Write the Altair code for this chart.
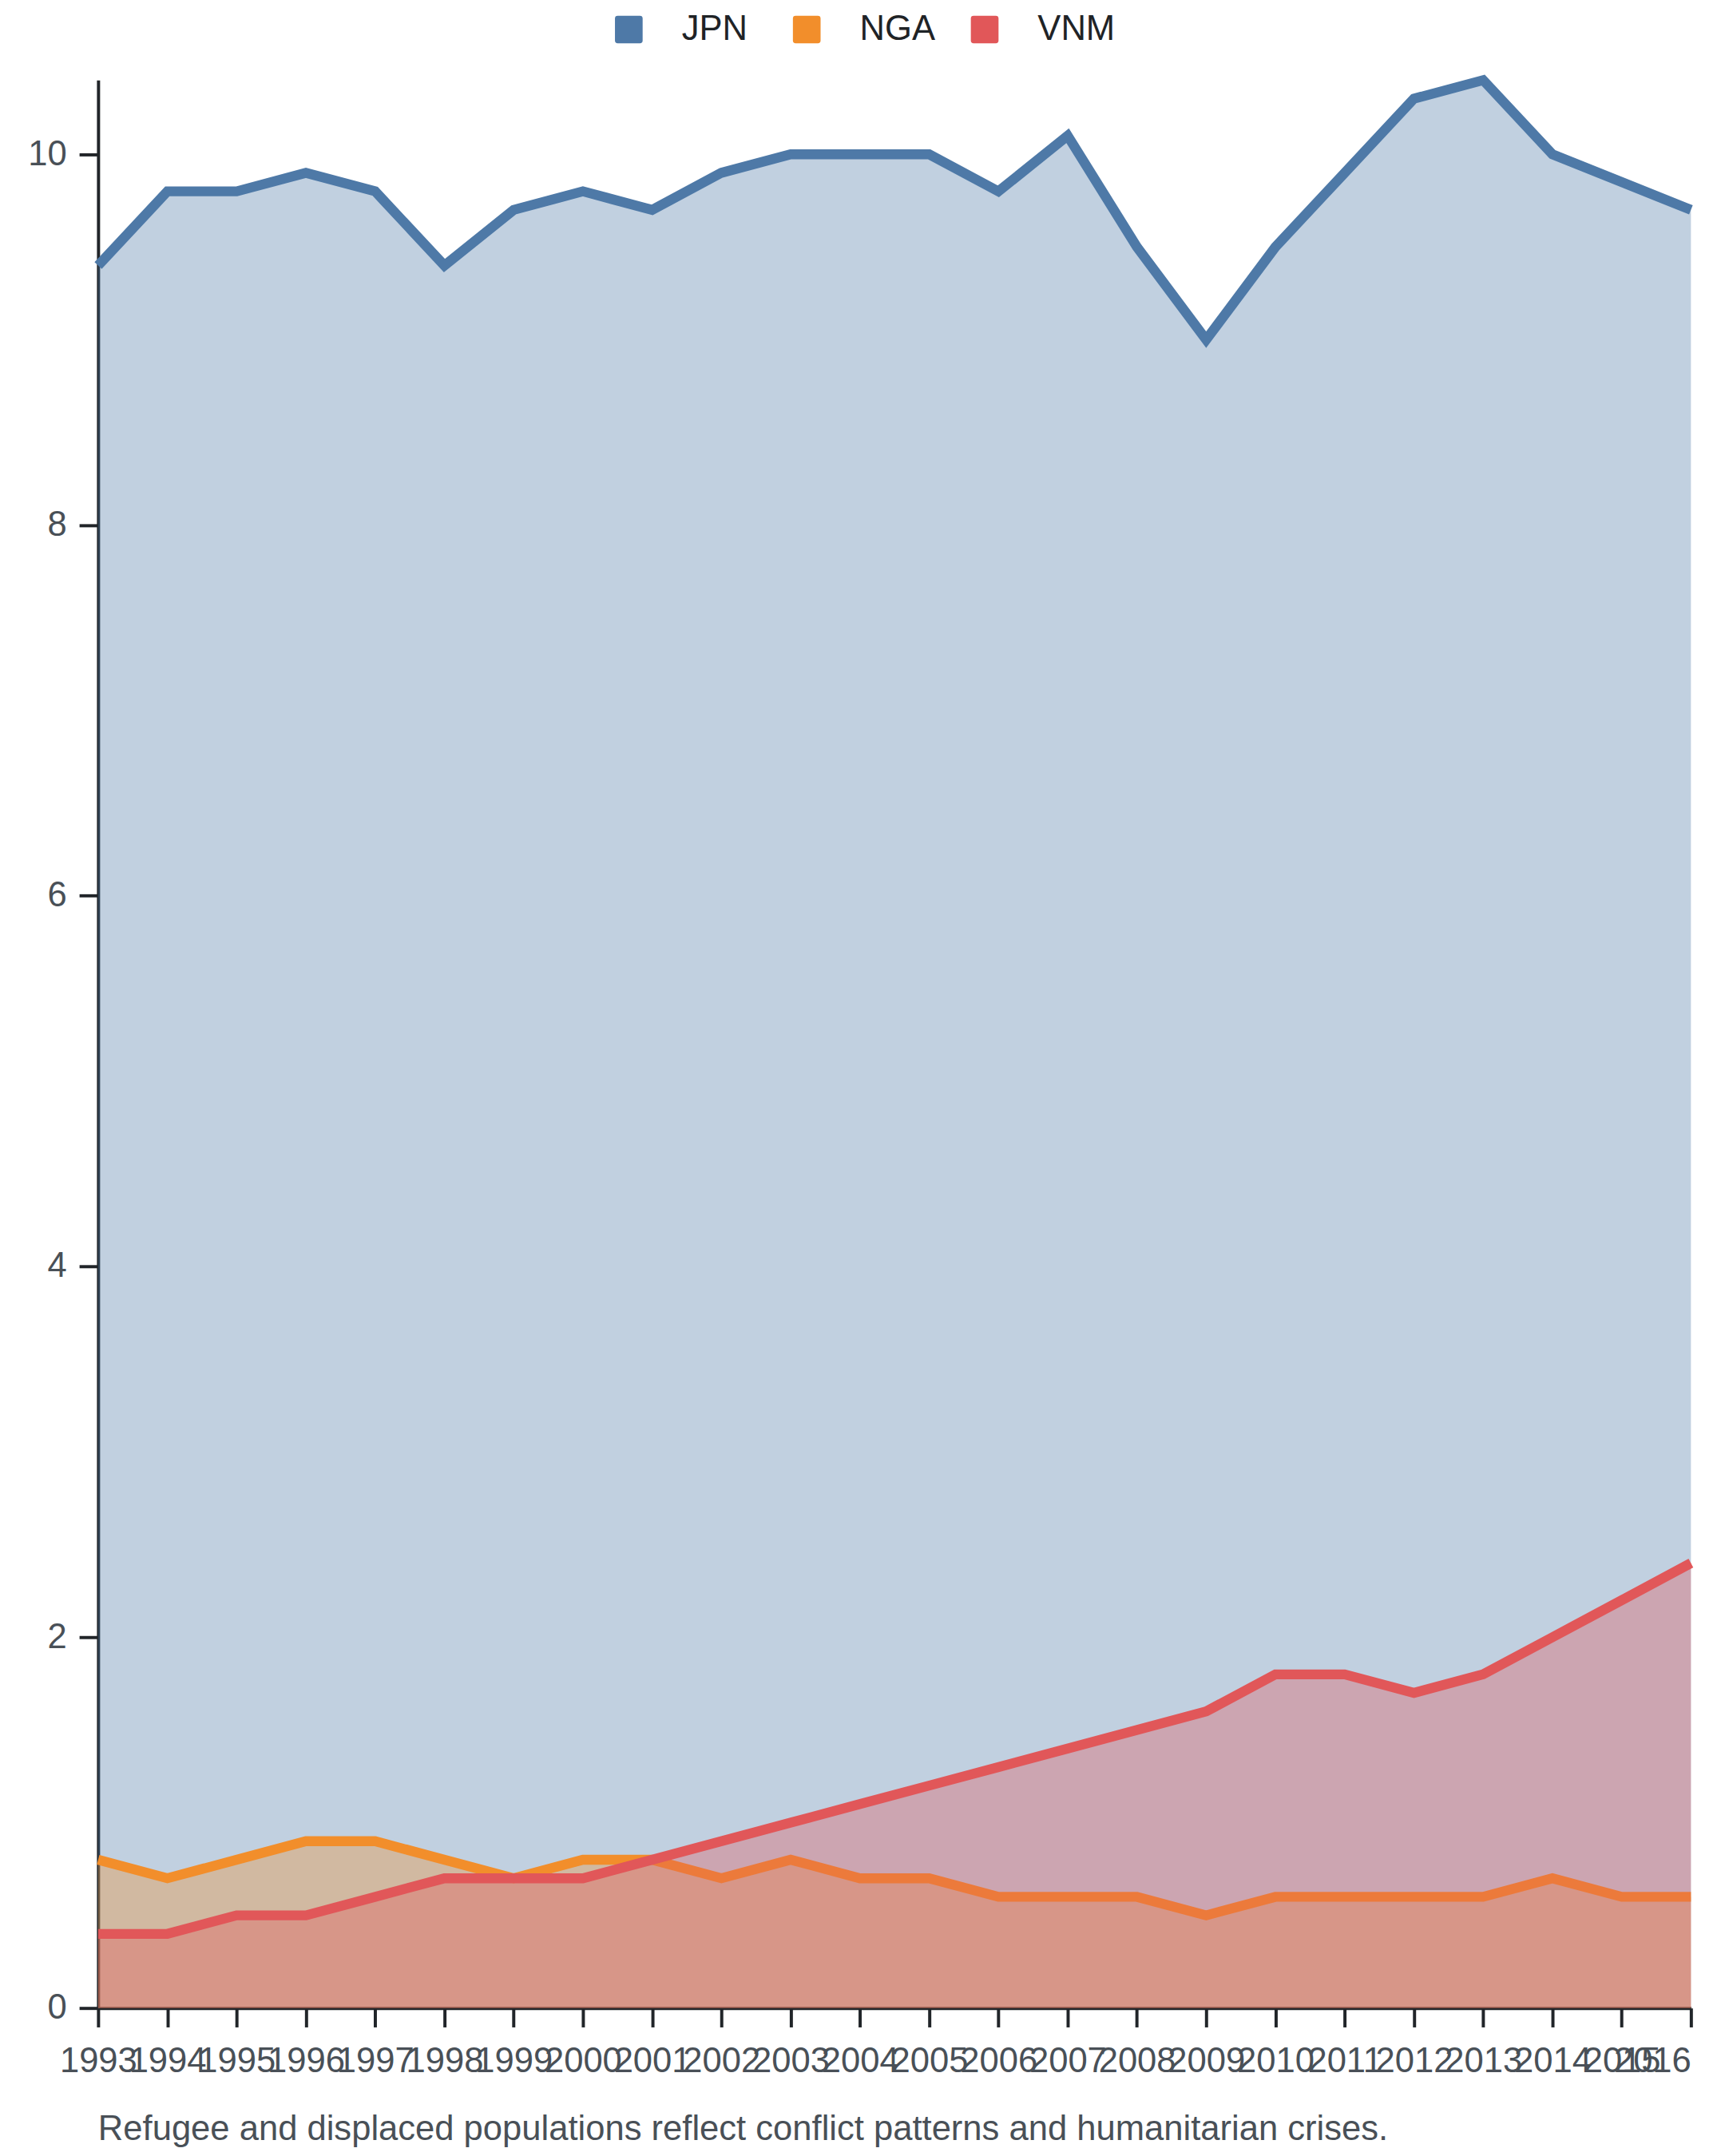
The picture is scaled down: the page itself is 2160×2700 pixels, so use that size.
import altair as alt
import pandas as pd

years = list(range(1993, 2017))
countries = ["JPN", "NGA", "VNM"]
colors = ["#4e79a7", "#f28e2b", "#e15759"]

jpn = [9.4, 9.8, 9.8, 9.9, 9.8, 9.4, 9.7, 9.8, 9.7, 9.9, 10.0, 10.0, 10.0, 9.8,
       10.1, 9.5, 9.0, 9.5, 9.9, 10.3, 10.4, 10.0, 9.85, 9.7]
nga = [0.8, 0.7, 0.8, 0.9, 0.9, 0.8, 0.7, 0.8, 0.8, 0.7, 0.8, 0.7, 0.7, 0.6,
       0.6, 0.6, 0.5, 0.6, 0.6, 0.6, 0.6, 0.7, 0.6, 0.6]
vnm = [0.4, 0.4, 0.5, 0.5, 0.6, 0.7, 0.7, 0.7, 0.8, 0.9, 1.0, 1.1, 1.2, 1.3,
       1.4, 1.5, 1.6, 1.8, 1.8, 1.7, 1.8, 2.0, 2.2, 2.4]
y_ticks = [0, 2, 4, 6, 8, 10]
caption = "Refugee and displaced populations reflect conflict patterns and humanitarian crises."

series = {"JPN": jpn, "NGA": nga, "VNM": vnm}
rows = []
for c in countries:
    for yr, v in zip(years, series[c]):
        rows.append({"year": yr, "country": c, "value": v})
df = pd.DataFrame(rows)

FONT = "Liberation Sans, Arial, sans-serif"
rounded_sq = ("M-1,-0.8 Q-1,-1 -0.8,-1 L0.8,-1 Q1,-1 1,-0.8 L1,0.8 Q1,1 0.8,1 "
              "L-0.8,1 Q-1,1 -1,0.8 Z")

x_enc = alt.X("year:Q",
              scale=alt.Scale(domain=[1993, 2016], nice=False, zero=False),
              axis=alt.Axis(values=years, format="d", title=None,
                            labelOverlap=False, labelBound=False, labelFlush=False,
                            labelPadding=22,
                            labelAlign=alt.ConditionalAxisLabelAlign(
                                condition={"test": "datum.value == 2016", "value": "right"},
                                value="center")))
y_enc = alt.Y("value:Q",
              scale=alt.Scale(domain=[0, 10.4], nice=False, zero=True),
              axis=alt.Axis(values=y_ticks, title=None, labelPadding=16))
legend = alt.Legend(orient="none", direction="horizontal", title=None,
                    legendX=649, legendY=-86, gridAlign="all",
                    symbolType=rounded_sq, symbolSize=1225, symbolOpacity=1,
                    symbolStrokeWidth=0, labelFontSize=44, labelFont=FONT,
                    labelColor="#1f2326", labelOffset=45, columnPadding=38,
                    padding=0)
color_enc = alt.Color("country:N",
                      scale=alt.Scale(domain=countries, range=colors),
                      legend=legend)

base = alt.Chart(df)
layers = []
for c in countries:
    sub = base.transform_filter(alt.datum.country == c)
    layers.append(sub.mark_area(opacity=0.35).encode(x=x_enc, y=y_enc, color=color_enc))
    layers.append(sub.mark_line(strokeWidth=12.5).encode(x=x_enc, y=y_enc, color=color_enc))

chart = alt.layer(*layers).properties(
    width=2014, height=2438,
    padding={"left": 27, "top": -6, "right": 10, "bottom": 10},
    title=alt.TitleParams(caption, orient="bottom", anchor="start", frame="group",
                          fontSize=44, fontWeight="normal", font=FONT,
                          color="#495057", offset=42),
).configure_view(stroke=None).configure_axis(
    labelFont=FONT, labelFontSize=44, labelColor="#495057",
    domainColor="#212529", domainWidth=4, tickColor="#212529",
    tickWidth=4, tickSize=24, grid=False,
)

chart.save("out.html", embed_options={"renderer": "svg", "actions": False})
